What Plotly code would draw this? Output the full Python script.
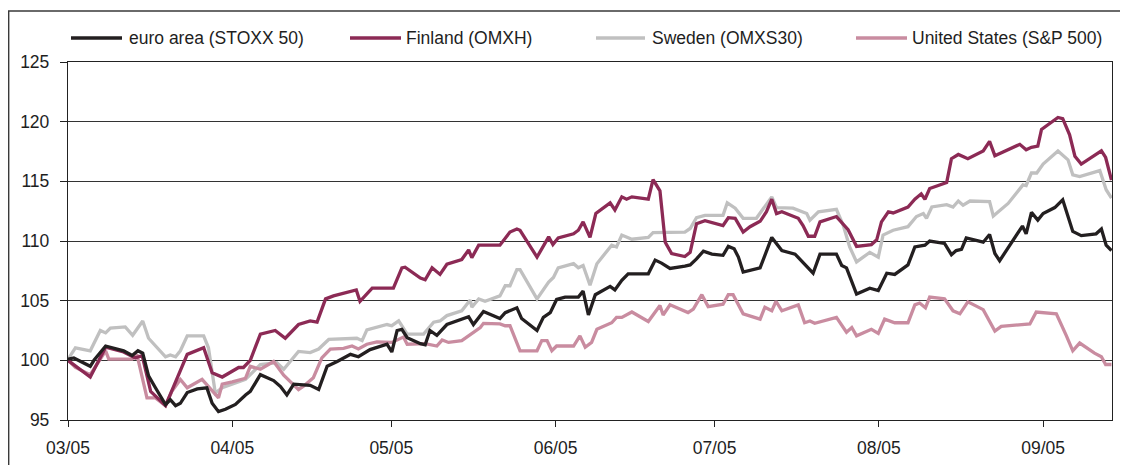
import pandas as pd
import plotly.graph_objects as go

# ---------------- data ----------------
series_names = ["euro area (STOXX 50)", "Finland (OMXH)", "Sweden (OMXS30)", "United States (S&P 500)"]
start_date = "2005-03-01"
end_day = 197.0
tick_format = "%m/%y"
y_tick_values = [95, 100, 105, 110, 115, 120, 125]

# days since 1 March 2005, index level
euro_days = [0.0, 1.1, 4.2, 4.9, 7.1, 10.5, 12.1, 13.2, 14.1, 15.2, 16.5, 18.4, 19.3, 20.3, 21.2, 22.5, 24.4, 26.2, 27.2, 28.4,
             29.7, 31.6, 33.5, 34.4, 36.3, 38.8, 40.1, 41.3, 42.6, 45.7, 47.3, 48.9, 50.8, 53.3, 54.8, 57.0, 60.2, 61.1, 62.1, 63.0,
             64.0, 66.5, 67.4, 68.3, 69.6, 71.5, 75.6, 76.5, 78.4, 81.5, 82.5, 84.7, 85.6, 88.5, 89.7, 91.0, 92.2, 93.8, 96.3, 97.2,
             98.2, 99.5, 102.3, 103.2, 104.5, 105.7, 109.5, 110.8, 112.0, 113.6, 116.4, 117.4, 118.6, 119.9, 121.5, 123.6, 124.6,
             125.7, 126.5, 127.4, 130.6, 132.8, 134.7, 137.2, 140.6, 141.9, 145.0, 146.0, 146.9, 148.8, 151.3, 152.9, 154.5, 156.0,
             158.5, 159.8, 161.7, 162.6, 165.4, 166.7, 167.6, 168.6, 169.5, 172.7, 173.9, 174.9, 175.8, 177.7, 180.1, 180.8, 181.8,
             183.0, 184.0, 186.2, 187.7, 189.6, 191.2, 194.0, 195.0, 195.9, 196.9]
euro_vals = [100.1, 100.2, 99.5, 100.0, 101.2, 100.8, 100.4, 100.8, 100.6, 98.7, 97.7, 96.3, 96.7, 96.2, 96.4, 97.3, 97.6, 97.7, 96.4, 95.7,
             95.9, 96.3, 97.1, 97.4, 98.8, 98.3, 97.8, 97.1, 98.0, 97.9, 97.55, 99.5, 99.9, 100.5, 100.3, 100.9, 101.35, 100.7, 102.5, 102.6,
             101.9, 101.4, 101.3, 102.5, 102.1, 103.0, 103.65, 103.0, 104.1, 103.5, 104.0, 104.4, 103.5, 102.5, 103.6, 104.0, 105.1, 105.3, 105.3, 105.8,
             103.8, 105.5, 106.2, 105.9, 106.7, 107.25, 107.25, 108.4, 108.15, 107.7, 107.9, 108.0, 108.5, 109.15, 108.9, 108.8, 109.55,
             109.35, 108.65, 107.4, 107.75, 110.3, 109.2, 108.9, 107.3, 108.9, 108.9, 107.95, 107.75, 105.55, 106.05, 105.85, 107.3, 107.2,
             108.0, 109.5, 109.65, 110.0, 109.8, 108.85, 109.2, 109.3, 110.25, 109.9, 110.55, 108.95, 108.35, 109.65, 111.25, 110.6, 112.4,
             111.75, 112.3, 112.8, 113.45, 110.8, 110.45, 110.6, 111.0, 109.65, 109.2]

fin_days = [0.0, 4.2, 7.1, 10.5, 12.7, 14.0, 15.6, 18.4, 22.5, 25.6, 27.2, 29.1, 32.2, 33.1, 34.4, 36.3, 39.1, 41.0, 43.5, 45.7,
            47.0, 48.6, 50.1, 54.4, 55.1, 57.4, 61.4, 63.0, 63.6, 66.5, 67.4, 68.7, 70.2, 71.5, 74.3, 75.6, 76.2, 77.5, 81.5, 83.4,
            84.7, 85.3, 88.5, 90.7, 91.5, 92.5, 95.4, 96.3, 97.2, 98.5, 99.6, 102.3, 103.2, 104.5, 105.4, 106.4, 109.5, 110.4, 111.7,
            112.7, 113.9, 116.4, 117.4, 118.6, 120.2, 123.6, 124.6, 125.9, 127.4, 128.7, 130.6, 131.8, 132.8, 133.7, 134.7, 137.8,
            138.7, 139.7, 140.9, 141.9, 145.0, 147.2, 148.8, 151.6, 152.6, 153.5, 154.8, 155.7, 158.5, 159.8, 161.0, 161.7, 162.6,
            165.8, 166.7, 168.0, 169.8, 172.7, 173.9, 174.9, 179.6, 180.8, 181.8, 183.0, 183.7, 186.8, 187.7, 189.0, 190.0, 191.2,
            195.0, 195.8, 196.9]
fin_vals = [100.0, 98.6, 101.1, 100.7, 100.2, 100.4, 97.4, 96.2, 100.5, 101.05, 98.95, 98.6, 99.4, 99.4, 100.0, 102.2, 102.5, 101.85, 103.0, 103.3,
            103.2, 105.15, 105.4, 105.9, 104.95, 106.05, 106.05, 107.75, 107.8, 106.9, 106.75, 107.75, 107.2, 108.05, 108.45, 109.25, 108.6, 109.65, 109.65, 110.75,
            111.0, 110.9, 108.65, 110.35, 109.7, 110.25, 110.6, 110.9, 111.6, 110.3, 112.3, 113.2, 112.6, 113.7, 113.5, 113.7, 113.5, 115.15, 114.2,
            109.9, 108.95, 108.7, 109.05, 111.45, 111.7, 111.3, 111.95, 111.9, 110.75, 111.2, 111.65, 112.45, 113.5, 112.3, 112.45, 111.9,
            111.3, 110.4, 110.4, 111.6, 112.05, 110.95, 109.55, 109.7, 110.1, 111.6, 112.45, 112.35, 112.85, 113.5, 113.95, 113.5, 114.4,
            114.9, 116.9, 117.25, 116.9, 117.55, 118.35, 117.15, 118.1, 117.65, 117.85, 117.95, 119.35, 120.35, 120.25, 118.9, 117.1, 116.45,
            117.55, 117.0, 115.1]

swe_days = [0.0, 1.4, 4.2, 6.1, 7.1, 8.0, 10.8, 12.2, 14.1, 15.2, 18.4, 19.3, 20.3, 21.2, 22.5, 25.6, 26.5, 27.8, 29.1, 33.5,
            36.3, 39.4, 40.7, 43.5, 45.7, 47.3, 49.2, 54.5, 55.5, 56.4, 60.2, 61.1, 62.4, 64.0, 67.1, 69.0, 70.2, 71.5, 74.3, 75.9,
            76.2, 77.5, 78.7, 81.5, 82.5, 83.4, 84.7, 85.3, 88.5, 90.7, 91.6, 92.5, 95.4, 96.3, 97.2, 98.5, 99.8, 102.6, 103.5, 104.5,
            106.4, 109.5, 110.4, 113.0, 116.4, 117.4, 118.6, 120.2, 123.6, 124.4, 125.9, 127.4, 129.9, 132.8, 133.7, 136.8, 139.4,
            140.0, 141.6, 145.0, 146.3, 147.5, 148.8, 151.3, 152.9, 153.8, 155.7, 158.5, 160.1, 161.4, 162.0, 163.0, 165.8, 167.0,
            168.0, 168.9, 170.2, 173.9, 174.6, 177.4, 180.2, 180.8, 181.8, 182.8, 184.0, 186.8, 188.7, 189.6, 190.9, 194.7, 195.9, 196.9]
swe_vals = [100.1, 101.05, 100.8, 102.5, 102.3, 102.7, 102.8, 102.1, 103.3, 101.85, 100.3, 100.45, 100.3, 100.8, 102.05, 102.05, 101.05, 97.25, 97.7, 98.4,
            99.65, 99.8, 99.25, 100.75, 100.65, 100.95, 101.75, 101.85, 101.65, 102.55, 103.0, 102.9, 103.3, 102.2, 102.2, 103.2, 103.3, 103.75, 104.15, 105.05,
            104.45, 105.15, 104.95, 105.4, 106.25, 106.25, 107.6, 107.6, 105.15, 106.55, 106.95, 107.75, 108.1, 107.75, 107.95, 106.3, 108.1, 109.65, 109.5, 110.5,
            110.15, 110.3, 110.7, 110.75, 110.75, 111.05, 111.95, 112.15, 112.15, 113.2, 112.75, 111.9, 111.9, 113.7, 112.8, 112.75, 112.3,
            111.75, 112.45, 112.65, 111.3, 109.5, 108.25, 109.05, 108.65, 110.5, 110.9, 111.2, 112.05, 112.3, 111.9, 112.85, 113.05, 112.85,
            113.35, 113.0, 113.35, 113.3, 112.1, 113.15, 114.7, 114.65, 115.7, 115.7, 116.45, 117.55, 116.8, 115.55, 115.4, 115.9, 114.3, 113.6]

us_days = [0.0, 1.4, 4.2, 7.1, 7.7, 12.1, 13.0, 14.9, 16.5, 18.4, 19.6, 21.2, 22.5, 25.3, 28.4, 29.1, 31.0, 33.5, 34.4, 36.3,
           38.8, 40.7, 43.5, 44.5, 46.3, 47.9, 49.5, 52.0, 53.6, 54.8, 56.4, 58.3, 61.1, 63.3, 64.0, 66.5, 67.4, 69.6, 70.6, 71.8,
           74.3, 77.8, 78.4, 81.5, 82.5, 83.4, 85.3, 88.5, 89.4, 90.4, 91.3, 92.2, 95.4, 96.6, 97.6, 98.8, 99.8, 102.6, 103.5, 104.5,
           106.4, 109.5, 111.7, 112.3, 113.6, 117.0, 118.0, 119.6, 120.8, 123.6, 124.6, 125.5, 127.4, 130.6, 131.5, 132.8, 133.6,
           134.7, 137.8, 139.0, 140.0, 140.9, 145.0, 146.9, 147.9, 148.8, 151.6, 152.9, 154.1, 156.0, 158.5, 159.8, 160.7, 161.8,
           162.6, 165.4, 167.0, 168.3, 169.8, 172.7, 174.9, 176.1, 181.5, 182.7, 186.5, 188.4, 189.6, 190.9, 193.7, 195.0, 195.8, 196.9]
us_vals = [100.0, 99.4, 98.8, 100.8, 100.1, 100.1, 100.5, 96.85, 96.85, 96.2, 97.4, 98.4, 97.7, 98.4, 96.85, 98.0, 98.2, 98.5, 99.5, 99.25,
           99.9, 98.75, 97.55, 97.85, 98.55, 100.2, 100.95, 101.0, 101.2, 100.95, 101.35, 101.55, 101.5, 101.95, 101.35, 101.35, 101.4, 101.2, 101.7, 101.5,
           101.65, 102.75, 103.1, 103.05, 102.9, 102.9, 100.8, 100.8, 101.65, 101.65, 100.8, 101.2, 101.2, 102.05, 101.1, 101.5, 102.6, 103.15, 103.6, 103.6,
           104.05, 103.25, 104.6, 103.8, 104.65, 104.0, 104.3, 105.5, 104.5, 104.7, 105.5, 105.5, 103.9, 103.45, 104.45, 104.15, 104.95,
           104.15, 104.65, 103.15, 103.3, 103.1, 103.6, 102.35, 102.75, 102.05, 102.6, 102.25, 103.45, 103.15, 103.15, 104.65, 104.8, 104.4,
           105.3, 105.15, 104.15, 103.9, 104.9, 104.25, 102.45, 102.85, 103.05, 104.05, 103.9, 102.05, 100.8, 101.45, 100.6, 100.3, 99.65, 99.65]

# ---------------- styling ----------------
colors = ["#231f20", "#8c2a55", "#c0c0c0", "#c98ca0"]
FONT = "Liberation Sans, Arial, sans-serif"
TXT = "#1e1e1e"
OFF = 8                      # default page margin of the html body
W, H = 1128 - OFF, 465 - OFF
ML, MR, MT, MB = 60, 16, 54, 45

base = pd.Timestamp(start_date)
def to_dates(days):
    return base + pd.to_timedelta(days, unit="D")

data = [(euro_days, euro_vals), (fin_days, fin_vals), (swe_days, swe_vals), (us_days, us_vals)]

fig = go.Figure()
draw_order = [2, 3, 1, 0]
for i in draw_order:
    d, v = data[i]
    fig.add_trace(go.Scatter(x=to_dates(d), y=v, mode="lines", name=series_names[i],
                             line=dict(color=colors[i], width=3.3), showlegend=False))

def px_x(p):   # page pixel -> paper
    return (p - OFF - ML) / (W - ML - MR)

def px_y(p):
    return (H - MB - (p - OFF)) / (H - MT - MB)

shapes = []
annotations = []
# outer frame
shapes.append(dict(type="rect", xref="paper", yref="paper", x0=px_x(8.7), x1=px_x(1150), y0=px_y(490), y1=px_y(11),
                   line=dict(color="#3a3a3a", width=1.4), fillcolor="rgba(0,0,0,0)", layer="below"))
# legend (custom, to reproduce the spacing of the original)
leg_line_x = [(71, 122), (350, 401), (596, 645), (856, 907)]
leg_text_x = [127, 404, 650, 910]
leg_y = 38
for i in range(4):
    x0, x1 = leg_line_x[i]
    shapes.append(dict(type="line", xref="paper", yref="paper", x0=px_x(x0), x1=px_x(x1), y0=px_y(leg_y), y1=px_y(leg_y),
                       line=dict(color=colors[i], width=3.4)))
    annotations.append(dict(xref="paper", yref="paper", x=px_x(leg_text_x[i]), y=px_y(leg_y), text=series_names[i],
                            showarrow=False, xanchor="left", yanchor="middle",
                            font=dict(family=FONT, size=17.5, color=TXT)))

fig.update_layout(
    width=W, height=H,
    margin=dict(l=ML, r=MR, t=MT, b=MB, autoexpand=False),
    paper_bgcolor="white", plot_bgcolor="white",
    font=dict(family=FONT, size=17.5, color=TXT),
    shapes=shapes, annotations=annotations,
    showlegend=False,
)
fig.update_xaxes(
    type="date", range=[base, base + pd.Timedelta(days=end_day)],
    tick0=start_date, dtick="M1", tickformat=tick_format,
    ticks="outside", ticklen=6, tickwidth=1.2, tickcolor="#222",
    showline=True, linecolor="#222", linewidth=1.3, mirror=True,
    showgrid=False, zeroline=False, ticklabelstandoff=6, automargin=False,
    tickfont=dict(family=FONT, size=17.5, color=TXT),
)
fig.update_yaxes(
    range=[95, 125], tickvals=y_tick_values,
    ticks="outside", ticklen=7, tickwidth=1.2, tickcolor="#222",
    showline=True, linecolor="#222", linewidth=1.3, mirror=True,
    showgrid=True, gridcolor="#333333", gridwidth=1, zeroline=False,
    ticklabelstandoff=7, automargin=False,
    tickfont=dict(family=FONT, size=17.5, color=TXT),
)

fig.write_html("out.html")
